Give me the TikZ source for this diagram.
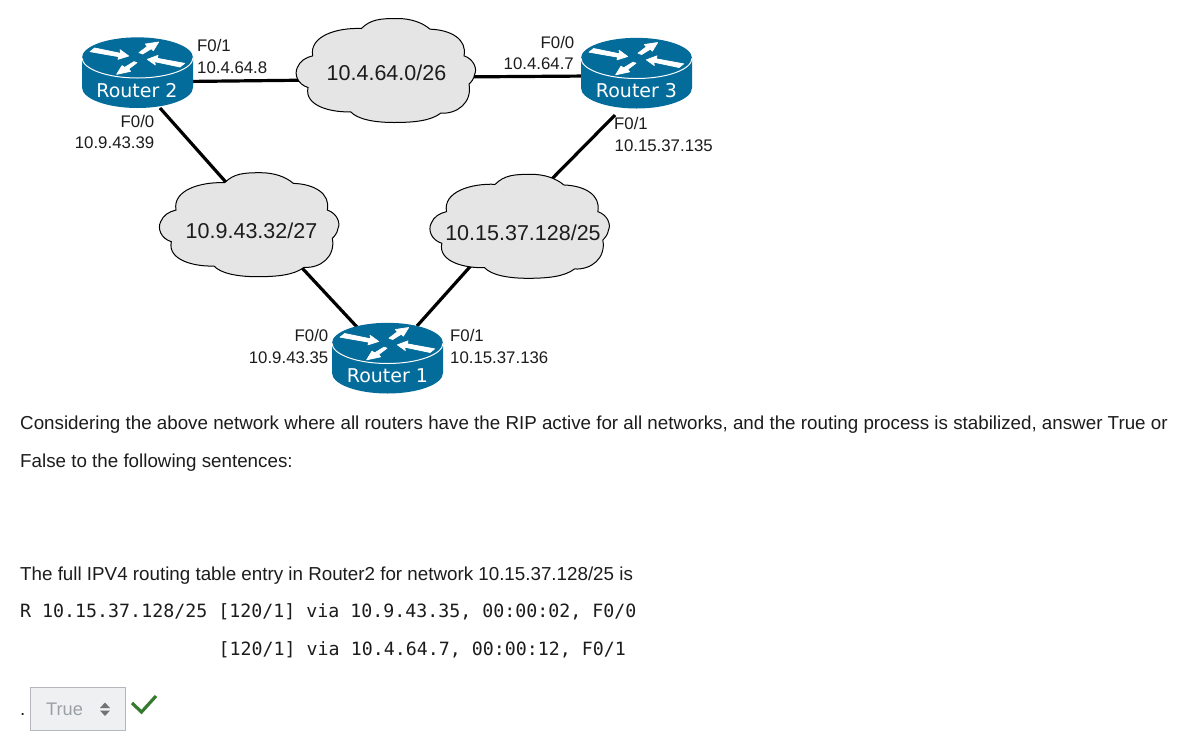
\documentclass[tikz,border=0pt]{standalone}
\usepackage{fontspec}
\setmainfont{Liberation Sans}
\newfontfamily\routerfont{DejaVu Sans}
\newfontfamily\codefont{DejaVu Sans Mono}
\definecolor{routerblue}{HTML}{036C9B}
\definecolor{cloudgrey}{HTML}{E5E5E5}
\definecolor{textgrey}{HTML}{1C1C1C}
\definecolor{selfill}{HTML}{EFF0F2}
\definecolor{selline}{HTML}{B4B8BC}
\definecolor{seltext}{HTML}{9AA0A6}
\definecolor{okgreen}{HTML}{357A2E}
\newcommand{\fs}[1]{\fontsize{#1}{#1}\selectfont}
\tikzset{
  x=1pt,y=-1pt,
  link/.style={line width=3.2pt,black},
  lbl/.style={inner sep=0pt,font=\fs{16.8},text=textgrey},
  lblr/.style={lbl,anchor=base east},
  lbll/.style={lbl,anchor=base west},
  cloudtxt/.style={inner sep=0pt,font=\fs{21.5},text=textgrey,anchor=base},
  bodytxt/.style={inner sep=0pt,anchor=base west,font=\fs{18.78},text=textgrey},
  codetxt/.style={inner sep=0pt,anchor=base west,font=\codefont\fs{18.28},text=textgrey},
  routerlbl/.style={inner sep=0pt,anchor=base,font=\routerfont\fs{19},text=white},
  rarrow/.style={fill=white,draw=white,line width=.7pt,line join=round},
  pics/router/.style={code={
    \begin{scope}[x=.33333pt,y=-.33333pt,shift={(-232.5,-142.5)}]
      \fill[routerblue] (66,143) -- (66,232)
        arc[start angle=180,end angle=0,x radius=166.5,y radius=62] -- (399,143)
        arc[start angle=0,end angle=-180,x radius=166.5,y radius=61] -- cycle;
      \draw[white,line width=1pt] (66,143) arc[start angle=180,end angle=0,x radius=166.5,y radius=61];
      \path[rarrow] (90,125) -- (104,114) -- (182,130) -- (180,119) -- (206,138) -- (174,148) -- (176,140) -- cycle;
      \path[rarrow] (237,128) -- (262,109) -- (256,102) -- (296,96) -- (280,122) -- (274,116) -- (248,132) -- cycle;
      \path[rarrow] (374,160) -- (360,171) -- (284,155) -- (286,165) -- (262,148) -- (294,136) -- (292,145) -- cycle;
      \path[rarrow] (231,158) -- (206,177) -- (212,184) -- (170,193) -- (186,167) -- (194,172) -- (222,155) -- cycle;
    \end{scope}
  }},
  pics/cloud/.style={code={
    \begin{scope}[x=.33333pt,y=-.33333pt,shift={(-295,-194)}]
      \draw[fill=cloudgrey,draw=black,line width=1pt]
        (222,68) .. controls (250,40) and (280,38) .. (330,38)
        .. controls (370,38) and (405,50) .. (428,70)
        .. controls (490,72) and (540,100) .. (530,150)
        .. controls (560,160) and (570,190) .. (562,205)
        .. controls (560,220) and (550,230) .. (545,235)
        .. controls (555,290) and (510,325) .. (460,322)
        .. controls (430,345) and (380,350) .. (320,350)
        .. controls (260,350) and (210,340) .. (190,318)
        .. controls (130,320) and (50,300) .. (62,245)
        .. controls (30,235) and (20,205) .. (30,185)
        .. controls (38,165) and (55,155) .. (76,150)
        .. controls (65,90) and (150,65) .. (222,68) -- cycle;
    \end{scope}
  }}
}
\begin{document}
\begin{tikzpicture}[x=1pt,y=-1pt]
\useasboundingbox (0,0) rectangle (1187,740);
\fill[white] (0,0) rectangle (1187,740);
% anchors
\coordinate (r2e) at (185,81.5);
\coordinate (r2s) at (160,108);
\coordinate (r3w) at (590,76);
\coordinate (r3s) at (615,115);
\coordinate (r1w) at (357,327);
\coordinate (r1e) at (417,326);
\coordinate (c1w) at (320,80);
\coordinate (c1e) at (450,77);
\coordinate (c2n) at (240,198);
\coordinate (c2s) at (290,255);
\coordinate (c3n) at (535,196);
\coordinate (c3s) at (485,250);
\draw[link] (r2e) -- (c1w);
\draw[link] (c1e) -- (r3w);
\draw[link] (r2s) -- (c2n);
\draw[link] (c2s) -- (r1w);
\draw[link] (r1e) -- (c3s);
\draw[link] (c3n) -- (r3s);
% clouds
\pic at (385.7,70.5) {cloud};
\pic at (249,224.7) {cloud};
\pic at (519.5,226.3) {cloud};
\node[cloudtxt] (c1) at (386.5,80) {10.4.64.0/26};
\node[cloudtxt] (c2) at (251.5,238.5) {10.9.43.32/27};
\node[cloudtxt] (c3) at (523,240) {10.15.37.128/25};
% routers
\pic at (137.5,57.5) {router};
\pic at (636.5,58) {router};
\pic at (387.5,343) {router};
\node[routerlbl] (r2) at (137,97) {Router 2};
\node[routerlbl] (r3) at (636.5,97) {Router 3};
\node[routerlbl] (r1) at (387.5,382) {Router 1};
% interface labels
\node[lbll] (a1) at (197,51) {F0/1};
\node[lbll] (a2) at (197,73) {10.4.64.8};
\node[lblr] (a3) at (154.5,127) {F0/0};
\node[lblr] (a4) at (154.5,148) {10.9.43.39};
\node[lblr] (a5) at (574.5,48) {F0/0};
\node[lblr] (a6) at (574,69) {10.4.64.7};
\node[lbll] (a7) at (614,129) {F0/1};
\node[lbll] (a8) at (614.5,151) {10.15.37.135};
\node[lblr] (a9) at (328.5,341) {F0/0};
\node[lblr] (a10) at (328.5,363) {10.9.43.35};
\node[lbll] (a11) at (450,341) {F0/1};
\node[lbll] (a12) at (450,363) {10.15.37.136};
% text
\node[bodytxt] (t1) at (20,429.5) {Considering the above network where all routers have the RIP active for all networks, and the routing process is stabilized, answer True or};
\node[bodytxt] (t2) at (20,467.5) {False to the following sentences:};
\node[bodytxt] (t3) at (20,580.5) {The full IPV4 routing table entry in Router2 for network 10.15.37.128/25 is};
\node[codetxt] (t4) at (20,617) {R 10.15.37.128/25 [120/1] via 10.9.43.35, 00:00:02, F0/0};
\node[codetxt] (t5) at (218.5,655) {[120/1] via 10.4.64.7, 00:00:12, F0/1};
\node[bodytxt] (t6) at (20,715) {.};
% select
\node[draw=selline,fill=selfill,line width=1pt,minimum width=95pt,minimum height=43pt,inner sep=0pt] (sel) at (78,709) {};
\node[inner sep=0pt,anchor=base west,font=\fs{18.2},text=seltext] (seltxt) at (46,715) {True};
\fill[gray!90!black] (105,702.5) -- (110,708) -- (100,708) -- cycle;
\fill[gray!90!black] (105,716) -- (110,710.5) -- (100,710.5) -- cycle;
\draw[okgreen,line width=3.2pt] (132,703) -- (141.5,712) -- (156,696);
\end{tikzpicture}
\end{document}
